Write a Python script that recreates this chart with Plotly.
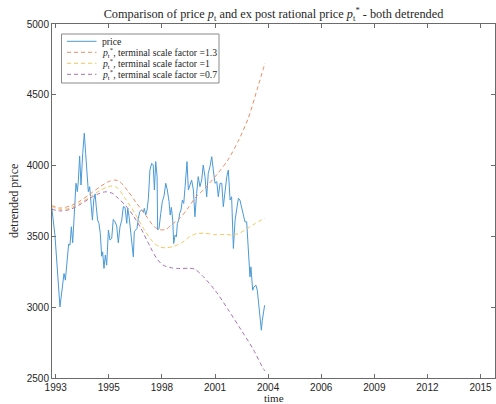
import plotly.graph_objects as go

# ---- data (decimal years, detrended price) ----
price_t = [1992.79, 1992.96, 1993.22, 1993.34, 1993.43, 1993.50, 1993.59, 1993.67, 1993.74, 1993.81,
           1993.88, 1993.96, 1994.05, 1994.12, 1994.17, 1994.24, 1994.31, 1994.40, 1994.48, 1994.55,
           1994.62, 1994.69, 1994.76, 1994.83, 1994.90, 1994.97, 1995.04, 1995.10, 1995.17, 1995.24,
           1995.31, 1995.38, 1995.43, 1995.50, 1995.57, 1995.64, 1995.73, 1995.81, 1995.90, 1995.98,
           1996.07, 1996.16, 1996.24, 1996.33, 1996.42, 1996.50, 1996.59, 1996.68, 1996.73, 1996.80,
           1996.88, 1996.97, 1997.02, 1997.07, 1997.14, 1997.21, 1997.28, 1997.35, 1997.45, 1997.54,
           1997.59, 1997.66, 1997.73, 1997.80, 1997.88, 1997.97, 1998.05, 1998.11, 1998.18, 1998.25,
           1998.28, 1998.35, 1998.44, 1998.52, 1998.61, 1998.70, 1998.78, 1998.87, 1998.93, 1998.99,
           1999.06, 1999.11, 1999.18, 1999.25, 1999.30, 1999.37, 1999.42, 1999.49, 1999.56, 1999.63,
           1999.70, 1999.75, 1999.80, 1999.87, 1999.96, 2000.04, 2000.13, 2000.21, 2000.30, 2000.38,
           2000.47, 2000.56, 2000.64, 2000.73, 2000.82, 2000.90, 2000.99, 2001.08, 2001.16, 2001.25,
           2001.34, 2001.42, 2001.51, 2001.60, 2001.68, 2001.77, 2001.86, 2001.94, 2002.03, 2002.11,
           2002.20, 2002.29, 2002.37, 2002.46, 2002.54, 2002.63, 2002.72, 2002.80, 2002.89, 2002.97,
           2003.06, 2003.11, 2003.20, 2003.27, 2003.37, 2003.44, 2003.51, 2003.58, 2003.65, 2003.70,
           2003.75, 2003.82]
price_v = [3710, 3509, 3002, 3144, 3238, 3191, 3309, 3446, 3438, 3568,
           3455, 3663, 3875, 3816, 3887, 4068, 3863, 4087, 4229, 4087,
           3946, 3816, 3851, 3757, 3615, 3757, 3800, 3710, 3615, 3592,
           3521, 3360, 3391, 3274, 3368, 3297, 3545, 3474, 3486, 3620,
           3603, 3573, 3455, 3568, 3615, 3710, 3705, 3592, 3698, 3639,
           3545, 3450, 3356, 3533, 3545, 3557, 3627, 3674, 3686, 3674,
           3698, 3651, 3686, 3769, 3970, 4016, 4004, 3828, 4028, 3922,
           3545, 3557, 3663, 3745, 3785, 3875, 3828, 3745, 3651, 3705,
           3615, 3450, 3509, 3497, 3592, 3615, 3663, 3686, 3757, 3733,
           3851, 3922, 4028, 3828, 3875, 3898, 3828, 3639, 3804, 3922,
           3851, 3898, 4004, 3922, 3780, 3946, 3993, 4063, 3969, 3875,
           3887, 3780, 3875, 3875, 3710, 3828, 3922, 3969, 3757, 3780,
           3415, 3615, 3686, 3769, 3757, 3710, 3663, 3603, 3603, 3450,
           3214, 3285, 3120, 3144, 3155, 3120, 3026, 2955, 2837, 2908,
           2955, 3014]

p13_t = [1992.79, 1993.22, 1993.74, 1994.26, 1994.78, 1995.29, 1995.71, 1996.05, 1996.33, 1996.74,
         1997.16, 1997.68, 1998.09, 1998.40, 1998.71, 1999.02, 1999.44, 1999.80, 2000.21, 2000.73,
         2001.40, 2001.92, 2002.44, 2002.96, 2003.48, 2003.84]
p13_v = [3718, 3700, 3715, 3750, 3800, 3850, 3885, 3898, 3885, 3820,
         3740, 3645, 3570, 3547, 3550, 3585, 3630, 3690, 3770, 3840,
         3946, 4040, 4170, 4330, 4560, 4724]

p10_t = [1992.79, 1993.22, 1993.74, 1994.26, 1994.78, 1995.29, 1995.71, 1995.92, 1996.17, 1996.59,
         1997.11, 1997.62, 1998.04, 1998.40, 1998.71, 1999.12, 1999.59, 1999.95, 2000.32, 2000.73,
         2001.25, 2001.77, 2002.18, 2002.54, 2002.91, 2003.32, 2003.84]
p10_v = [3712, 3690, 3700, 3735, 3780, 3825, 3850, 3856, 3845, 3770,
         3660, 3540, 3460, 3425, 3420, 3430, 3460, 3500, 3520, 3522,
         3512, 3514, 3510, 3525, 3555, 3590, 3630]

p07_t = [1992.79, 1993.22, 1993.74, 1994.26, 1994.78, 1995.29, 1995.60, 1995.92, 1996.23, 1996.64,
         1997.00, 1997.37, 1997.88, 1998.25, 1998.55, 1998.92, 1999.44, 1999.95, 2000.21, 2000.58,
         2001.25, 2001.92, 2002.60, 2003.22, 2003.75, 2003.84]
p07_v = [3692, 3680, 3690, 3725, 3770, 3805, 3815, 3805, 3770, 3715,
         3650, 3568, 3430, 3340, 3298, 3280, 3273, 3275, 3268, 3225,
         3120, 2985, 2840, 2705, 2566, 2550]

x_tickvals = [1993.0, 1995.75, 1998.5, 2001.25, 2004.0, 2006.75, 2009.5, 2012.25, 2015.0]
x_ticktext = ["1993", "1995", "1998", "2001", "2004", "2006", "2009", "2012", "2015"]
y_tickvals = [2500, 3000, 3500, 4000, 4500, 5000]

PSTAR = "<i>p</i><sub>t</sub><sup>*</sup>"
series_names = ["price",
                PSTAR + ", terminal scale factor =1.3",
                PSTAR + ", terminal scale factor =1",
                PSTAR + ", terminal scale factor =0.7"]
series_colors = ["#4a9ad6", "#ea8d66", "#f3c65e", "#ac6fb8"]
series_dash = ["solid", "4px,3px", "4px,3px", "4px,3px"]

# ---- figure ----
SERIF = "Liberation Serif, Times New Roman, serif"
SANS = "Liberation Sans, Arial, Helvetica, sans-serif"
TXT = "#262626"

W, H = 496, 404
ML, MR, MT, MB = 52, 1, 24, 26
PW, PH = W - ML - MR, H - MT - MB


def px_x(px):
    return (px - ML) / PW


def px_y(py):
    return (H - MB - py) / PH


fig = go.Figure()
series = [(price_t, price_v, "linear"), (p13_t, p13_v, "spline"),
          (p10_t, p10_v, "spline"), (p07_t, p07_v, "spline")]
for (tt, vv, shp), nm, col, ds in zip(series, series_names, series_colors, series_dash):
    line = dict(color=col, width=1, dash=ds, shape=shp)
    if shp == "spline":
        line["smoothing"] = 0.8
    fig.add_trace(go.Scatter(x=tt, y=vv, mode="lines", name=nm, line=line, showlegend=False))

axis_common = dict(showline=True, linecolor="#6b6b6b", linewidth=1, mirror="ticks",
                   ticks="inside", ticklen=4, tickcolor="#6b6b6b", showgrid=False, zeroline=False,
                   automargin=False, tickfont=dict(family=SANS, size=10, color=TXT))

fig.update_xaxes(range=[1992.808, 2015.75], tickmode="array", tickvals=x_tickvals,
                 ticktext=x_ticktext, **axis_common)
fig.update_yaxes(range=[2500, 5000], tickmode="array", tickvals=y_tickvals, **axis_common)

# custom legend (compact, like the reference)
shapes = [dict(type="rect", xref="paper", yref="paper",
               x0=px_x(61.5), x1=px_x(219), y0=px_y(83), y1=px_y(34),
               line=dict(color="#8a8a8a", width=1), fillcolor="white", layer="above")]
annotations = []
row_y = [41.3, 52.3, 63.3, 74.3]
for ry, nm, col, ds in zip(row_y, series_names, series_colors, series_dash):
    shapes.append(dict(type="line", xref="paper", yref="paper",
                       x0=px_x(67), x1=px_x(96.5), y0=px_y(ry), y1=px_y(ry),
                       line=dict(color=col, width=1, dash="4px,3px" if ds != "solid" else "solid"),
                       layer="above"))
    annotations.append(dict(text=nm, xref="paper", yref="paper", x=px_x(99.5), y=px_y(ry),
                            xanchor="left", yanchor="middle", showarrow=False,
                            font=dict(family=SERIF, size=9.7, color=TXT)))

annotations += [
    dict(text="detrended price", xref="paper", yref="paper", x=px_x(14), y=0.5,
         xanchor="center", yanchor="middle", textangle=-90, showarrow=False,
         font=dict(family=SERIF, size=12, color=TXT)),
    dict(text="time", xref="paper", yref="paper", x=0.5, y=px_y(398),
         xanchor="center", yanchor="middle", showarrow=False,
         font=dict(family=SERIF, size=11, color=TXT)),
]

fig.update_layout(
    width=W, height=H,
    margin=dict(l=ML, r=MR, t=MT, b=MB, autoexpand=False),
    paper_bgcolor="white", plot_bgcolor="white",
    title=dict(text="Comparison of price <i>p</i><sub>t</sub> and ex post rational price "
                    + PSTAR + " - both detrended",
               x=0.5, xref="paper", xanchor="center", y=1 - 14 / H, yref="container", yanchor="middle",
               font=dict(family=SERIF, size=12.3, color=TXT)),
    shapes=shapes,
    annotations=annotations,
    showlegend=False,
)

fig.write_html("out.html", config={"displayModeBar": False},
               post_script="document.body.style.margin='0px';")
